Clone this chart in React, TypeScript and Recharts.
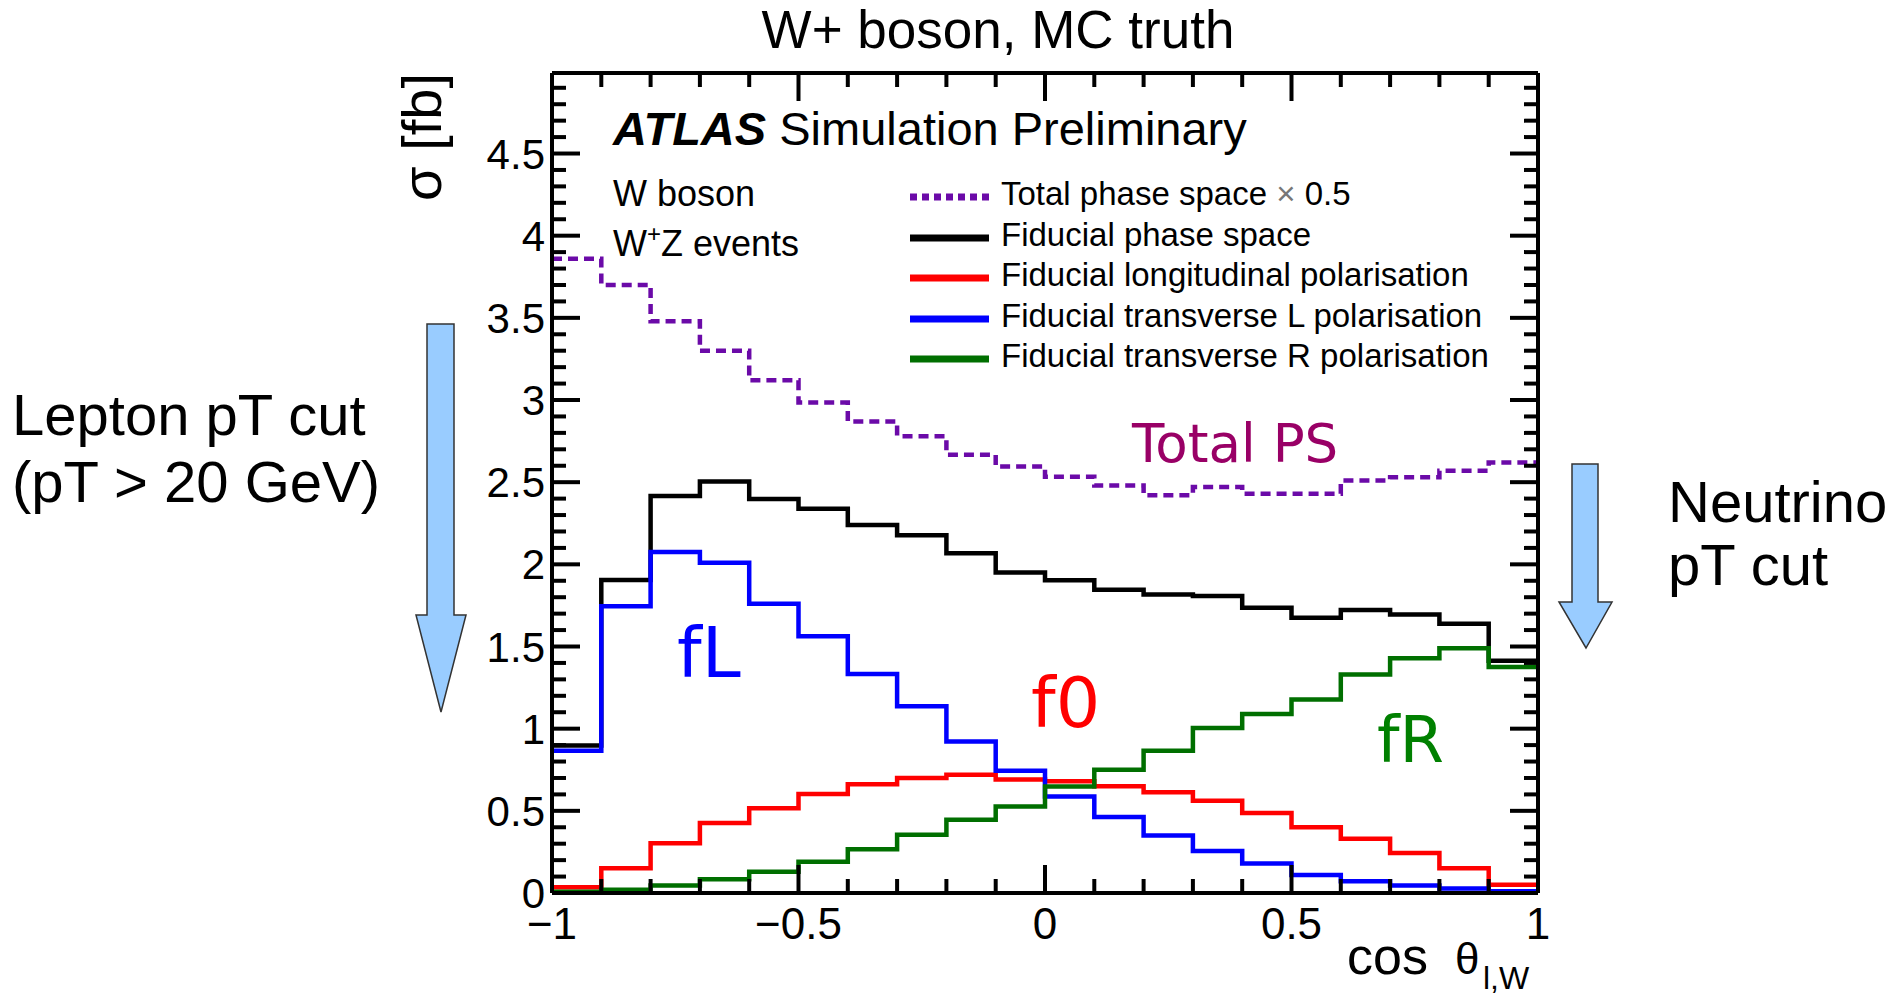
import React from 'react';
import { LineChart, Line, XAxis, YAxis, Legend } from 'recharts';

// cos(theta_l,W) bin edges (20 bins of 0.1)
const binEdges = [-1, -0.9, -0.8, -0.7, -0.6, -0.5, -0.4, -0.3, -0.2, -0.1, 0, 0.1, 0.2, 0.3, 0.4, 0.5, 0.6, 0.7, 0.8, 0.9, 1];

// sigma [fb] per bin
const totalHalf = [3.86, 3.70, 3.48, 3.30, 3.12, 2.985, 2.87, 2.78, 2.667, 2.595, 2.533, 2.48, 2.42, 2.47, 2.43, 2.43, 2.51, 2.53, 2.57, 2.62];
const fiducial = [0.897, 1.905, 2.416, 2.504, 2.397, 2.339, 2.24, 2.177, 2.068, 1.95, 1.903, 1.845, 1.817, 1.807, 1.736, 1.675, 1.722, 1.695, 1.638, 1.414];
const longit = [0.035, 0.15, 0.302, 0.426, 0.516, 0.603, 0.662, 0.70, 0.72, 0.69, 0.68, 0.65, 0.613, 0.562, 0.487, 0.4, 0.33, 0.244, 0.15, 0.05];
const transL = [0.866, 1.745, 2.075, 2.01, 1.76, 1.563, 1.333, 1.136, 0.922, 0.744, 0.588, 0.462, 0.35, 0.256, 0.18, 0.109, 0.072, 0.045, 0.028, 0.01];
const transR = [0.008, 0.02, 0.045, 0.083, 0.13, 0.19, 0.266, 0.354, 0.445, 0.526, 0.648, 0.75, 0.866, 1.004, 1.09, 1.178, 1.33, 1.428, 1.49, 1.375];

const xMajorLabels = ['−1', '−0.5', '0', '0.5', '1'];
const yMajorLabels = ['0', '0.5', '1', '1.5', '2', '2.5', '3', '3.5', '4', '4.5'];

const legendNames = [
  'Total phase space × 0.5',
  'Fiducial phase space',
  'Fiducial longitudinal polarisation',
  'Fiducial transverse L polarisation',
  'Fiducial transverse R polarisation',
];

const SANS = "'Liberation Sans', Arial, Helvetica, sans-serif";
const HAND = "'Comic Sans MS', 'DejaVu Sans', sans-serif";

const C_TOTAL = '#6b0aa8';
const C_FID = '#000000';
const C_LONG = '#ff0000';
const C_TL = '#0000ff';
const C_TR = '#006f00';

const W = 1902;
const H = 999;
const margin = { top: 53, right: 344, bottom: 46, left: 472 };
const LEFT_AXIS_W = 80;
const RIGHT_AXIS_W = 20;
const TOP_AXIS_H = 20;
const Y_MAX = 4.99;
// plot box, derived from the chart layout above
const PLOT_L = margin.left + LEFT_AXIS_W;
const PLOT_T = margin.top + TOP_AXIS_H;
const PLOT_W = W - margin.left - margin.right - LEFT_AXIS_W - RIGHT_AXIS_W;

// histogram drawn as stepAfter: last edge repeats the last bin
const data = binEdges.map((x, i) => {
  const b = Math.min(i, 19);
  return { x, total: totalHalf[b], fid: fiducial[b], long: longit[b], tl: transL[b], tr: transR[b] };
});

const xTicks = binEdges;
const yTicks = Array.from({ length: 50 }, (_, i) => i / 10);

const isMajor = (v: number) => Math.abs(v * 2 - Math.round(v * 2)) < 1e-6;
const xLabel = (v: number) => xMajorLabels[Math.round((v + 1) * 2)];
const yLabel = (v: number) => yMajorLabels[Math.round(v * 2)];

const BottomTick = ({ x, y, payload }: any) => {
  const major = isMajor(payload.value);
  return (
    <g>
      <line x1={x} x2={x} y1={y} y2={y - (major ? 28 : 14)} stroke="#000" strokeWidth={4} />
      {major && (
        <text x={x} y={y + 46} textAnchor="middle" fontSize={44} fontFamily={SANS} fill="#000">
          {xLabel(payload.value)}
        </text>
      )}
    </g>
  );
};

const LeftTick = ({ x, y, payload }: any) => {
  const major = isMajor(payload.value);
  return (
    <g>
      <line x1={x} x2={x + (major ? 28 : 14)} y1={y} y2={y} stroke="#000" strokeWidth={4} />
      {major && (
        <text x={x - 7} y={y + 15} textAnchor="end" fontSize={42} fontFamily={SANS} fill="#000">
          {yLabel(payload.value)}
        </text>
      )}
    </g>
  );
};

const RightTick = ({ x, y, payload }: any) => {
  const major = isMajor(payload.value);
  return <line x1={x} x2={x - (major ? 28 : 14)} y1={y} y2={y} stroke="#000" strokeWidth={4} />;
};

const dashFor: Record<string, string | undefined> = { total: '7 5' };

const HistLegend = ({ payload }: any) => {
  const items = [...(payload || [])]
    .filter((e: any) => legendNames.includes(String(e.value)))
    .sort((a: any, b: any) => legendNames.indexOf(String(a.value)) - legendNames.indexOf(String(b.value)));
  return (
    <div style={{ fontFamily: SANS, fontSize: 33, color: '#000' }}>
      {items.map((e: any) => {
        const name = String(e.value);
        const parts = name.split('×');
        return (
          <div key={name} style={{ display: 'flex', alignItems: 'center', height: 40.5, whiteSpace: 'nowrap' }}>
            <svg width={79} height={12} style={{ display: 'block' }}>
              <line x1={0} x2={79} y1={6} y2={6} stroke={e.color} strokeWidth={7} strokeDasharray={dashFor[e.dataKey]} />
            </svg>
            <span style={{ marginLeft: 12, position: 'relative', top: -3 }}>
              {parts.length > 1 ? (
                <>
                  {parts[0]}
                  <span style={{ color: '#777' }}>×</span>
                  {parts[1]}
                </>
              ) : name}
            </span>
          </div>
        );
      })}
    </div>
  );
};

const axisLine = { stroke: '#000', strokeWidth: 4 };

export default function App() {
  return (
    <div style={{ position: 'absolute', left: 0, top: 0, width: W, height: H, background: '#fff' }}>
      <LineChart width={W} height={H} data={data} margin={margin}>
        <XAxis dataKey="x" type="number" domain={[-1, 1]} ticks={xTicks} interval={0} height={60}
          axisLine={axisLine} tickLine={false} tickSize={0} tickMargin={0} tick={(p: any) => <BottomTick {...p} />} />
        <XAxis xAxisId="top" dataKey="x" orientation="top" type="number" domain={[-1, 1]} height={TOP_AXIS_H}
          axisLine={axisLine} tickLine={false} tick={false} />
        <YAxis type="number" domain={[0, Y_MAX]} ticks={yTicks} interval={0} width={LEFT_AXIS_W} allowDataOverflow
          axisLine={axisLine} tickLine={false} tickSize={0} tickMargin={0} tick={(p: any) => <LeftTick {...p} />} />
        <YAxis yAxisId="right" orientation="right" type="number" domain={[0, Y_MAX]} ticks={yTicks} interval={0} width={RIGHT_AXIS_W} allowDataOverflow
          axisLine={axisLine} tickLine={false} tickSize={0} tickMargin={0} tick={(p: any) => <RightTick {...p} />} />
        <Legend layout="vertical" align="center" verticalAlign="middle" content={<HistLegend />}
          wrapperStyle={{ left: 910, top: 177, width: 'auto' }} />
        <Line xAxisId="top" yAxisId="right" type="stepAfter" dataKey="fid" name="mirror" stroke="none" legendType="none"
          dot={false} activeDot={false} isAnimationActive={false} />
        <Line type="stepAfter" dataKey="total" name={legendNames[0]} stroke={C_TOTAL} strokeWidth={4.5} strokeDasharray="10 6"
          dot={false} activeDot={false} isAnimationActive={false} strokeLinejoin="miter" />
        <Line type="stepAfter" dataKey="fid" name={legendNames[1]} stroke={C_FID} strokeWidth={4.5}
          dot={false} activeDot={false} isAnimationActive={false} strokeLinejoin="miter" />
        <Line type="stepAfter" dataKey="long" name={legendNames[2]} stroke={C_LONG} strokeWidth={4.5}
          dot={false} activeDot={false} isAnimationActive={false} strokeLinejoin="miter" />
        <Line type="stepAfter" dataKey="tl" name={legendNames[3]} stroke={C_TL} strokeWidth={4.5}
          dot={false} activeDot={false} isAnimationActive={false} strokeLinejoin="miter" />
        <Line type="stepAfter" dataKey="tr" name={legendNames[4]} stroke={C_TR} strokeWidth={4.5}
          dot={false} activeDot={false} isAnimationActive={false} strokeLinejoin="miter" />
      </LineChart>

      <svg width={W} height={H} style={{ position: 'absolute', left: 0, top: 0, pointerEvents: 'none' }}>
        {/* mirrored ticks on the top frame edge */}
        {xTicks.map((v) => {
          const x = PLOT_L + ((v + 1) / 2) * PLOT_W;
          return <line key={`tt${v}`} x1={x} x2={x} y1={PLOT_T} y2={PLOT_T + (isMajor(v) ? 28 : 14)} stroke="#000" strokeWidth={4} />;
        })}

        <text x={998} y={48} textAnchor="middle" fontSize={53} fontFamily={SANS}>W+ boson, MC truth</text>

        <text transform="translate(441,73) rotate(-90)" textAnchor="end" fontSize={56} fontFamily={SANS}>σ [fb]</text>

        <text x={1347} y={974} fontSize={52} fontFamily={SANS}>cos</text>
        <text x={1455} y={974} fontSize={44} fontFamily={SANS}>θ</text>
        <text x={1483} y={989} fontSize={32} fontFamily={SANS}>l,W</text>

        <text x={613} y={145} fontSize={47} fontFamily={SANS}>
          <tspan fontWeight="bold" fontStyle="italic">ATLAS</tspan>
          <tspan> Simulation Preliminary</tspan>
        </text>
        <text x={613} y={206} fontSize={36} fontFamily={SANS}>W boson</text>
        <text x={613} y={256} fontSize={36} fontFamily={SANS}>
          W<tspan fontSize={24} dy={-14}>+</tspan><tspan dy={14}>Z events</tspan>
        </text>

        <text x={1132} y={462} fontSize={53} fontFamily={HAND} fill="#990066">Total PS</text>
        <text x={677} y={677} fontSize={70} fontFamily={HAND} fill="#0000ff">fL</text>
        <text x={1031} y={727} fontSize={70} fontFamily={HAND} fill="#ff0000">f0</text>
        <text x={1377} y={762} fontSize={64} fontFamily={HAND} fill="#008000">fR</text>

        <text fontSize={58} fontFamily={SANS}>
          <tspan x={12} y={435}>Lepton pT cut</tspan>
          <tspan x={12} y={502}>(pT &gt; 20 GeV)</tspan>
        </text>
        <text fontSize={58} fontFamily={SANS}>
          <tspan x={1668} y={522}>Neutrino</tspan>
          <tspan x={1668} y={585}>pT cut</tspan>
        </text>

        <polygon points="427,324 454,324 454,615 466,615 441,712 416,615 427,615"
          fill="#99ccff" stroke="#333" strokeWidth={1.5} />
        <polygon points="1572,464 1598,464 1598,602 1612,602 1586,648 1559,602 1572,602"
          fill="#99ccff" stroke="#333" strokeWidth={1.5} />
      </svg>
    </div>
  );
}
